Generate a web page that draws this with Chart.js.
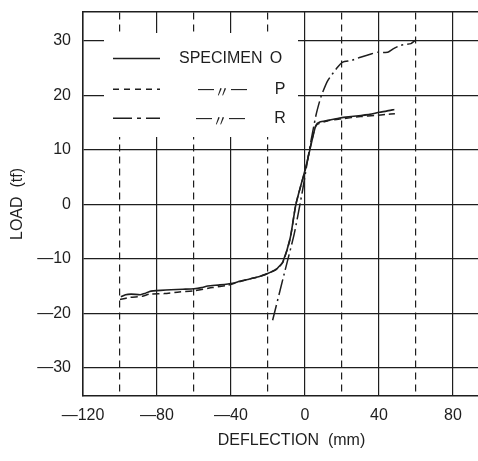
<!DOCTYPE html>
<html><head><meta charset="utf-8">
<script src="https://cdn.jsdelivr.net/npm/chart.js@4/dist/chart.umd.min.js"></script>
<style>
html,body{margin:0;padding:0;background:#fff;overflow:hidden;}
#wrap{width:500px;height:461px;position:relative;}
</style></head><body>
<div id="wrap"><canvas id="c"></canvas></div>
<script>
// ---- data ----
const xTicks = [-120, -80, -40, 0, 40, 80];
const xDashTicks = [-100, -60, -20, 20, 60];
const yTicks = [-30, -20, -10, 0, 10, 20, 30];

const legendNames = ['SPECIMEN', 'O', 'P', 'R'];
const dittoMark = '\u3003';

const specO_x = [-99.5, -97, -94, -89, -86.8, -84, -82, -78, -72.4, -66, -60, -56, -52.6, -46, -39.1, -35, -31, -25, -20.2, -16, -14.5, -12, -8, -4.9, 0.5, 4, 5.9, 8, 12.3, 19.5, 25, 30.3, 35, 40.2, 44, 48.3];
const specO_y = [-17.0, -16.6, -16.5, -16.6, -16.4, -16.0, -15.9, -15.8, -15.7, -15.6, -15.5, -15.3, -15.0, -14.8, -14.5, -14.1, -13.8, -13.3, -12.7, -12.1, -11.6, -10.6, -6.2, 0.0, 6.9, 12.0, 14.5, 15.1, 15.4, 15.9, 16.1, 16.3, 16.5, 16.9, 17.1, 17.4];

const specP_x = [-100, -95, -88, -84, -76, -68, -60, -50, -42, -39, -31, -25, -20, -15, -12, -8, -5, 0.5, 5.9, 12, 20, 30, 38, 44, 48.6];
const specP_y = [-17.5, -17.1, -16.9, -16.5, -16.4, -16.1, -15.9, -15.3, -14.9, -14.6, -13.8, -13.3, -12.7, -11.8, -10.7, -6.3, -0.1, 6.8, 14.4, 15.3, 15.7, 16.1, 16.3, 16.5, 16.6];

const specR_x = [-17.5, -11.2, -5.8, -1.3, 2.3, 5.9, 8.6, 12.3, 17.7, 20.4, 24.9, 30, 35.7, 39.3, 44.7, 47.4, 51.9, 57.3, 59.6];
const specR_y = [-21.3, -12.7, -5.4, 2.6, 9.9, 16.3, 19.7, 22.7, 25.2, 26.1, 26.4, 27.0, 27.6, 27.9, 27.9, 28.5, 29.2, 29.5, 30.1];

// ---- styles ----
const INK = '#1e1e1e';
const FONT = "'Liberation Sans', Arial, sans-serif";
const dashP = [7, 4];
const dashR = [16, 4, 2, 4];

const toPts = (xs, ys) => xs.map((x, i) => ({x: x, y: ys[i]}));

Chart.defaults.font.family = FONT;
Chart.defaults.color = INK;

const legendPlugin = {
  id: 'boxLegend',
  beforeDatasetsDraw(chart) {
    const ctx = chart.ctx;
    ctx.save();
    ctx.fillStyle = '#fff';
    ctx.fillRect(104, 33, 194, 104);
    ctx.strokeStyle = INK;
    ctx.lineWidth = 1.5;
    const rows = [58.5, 89.3, 118.3];
    const dashes = [[], [6, 5], [19, 5, 4, 5]];
    rows.forEach((y, i) => {
      ctx.setLineDash(dashes[i]);
      ctx.beginPath();
      ctx.moveTo(113, y);
      ctx.lineTo(160, y);
      ctx.stroke();
    });
    ctx.setLineDash([]);
    ctx.fillStyle = INK;
    ctx.textBaseline = 'middle';
    ctx.font = "16px " + FONT;
    ctx.textAlign = 'left';
    ctx.fillText(legendNames[0], 179, rows[0]);
    ctx.textAlign = 'center';
    ctx.fillText(legendNames[1], 276, rows[0]);
    ctx.fillText(legendNames[2], 280, rows[1]);
    ctx.fillText(legendNames[3], 280, rows[2]);
    [[222, rows[1]], [220, rows[2]]].forEach(([cx, y]) => {
      ctx.font = "16px " + FONT;
      ctx.fillText('\u2014', cx - 16, y);
      ctx.fillText('\u2014', cx + 17, y);
      ctx.font = "15px 'Noto Sans CJK JP', " + FONT;
      ctx.fillText(dittoMark, cx, y + 2);
    });
    ctx.restore();
  }
};

const fmt = v => (v < 0 ? '\u2014' + Math.abs(v) : String(v));

new Chart(document.getElementById('c'), {
  type: 'line',
  data: {
    datasets: [
      {label: 'O', data: toPts(specO_x, specO_y), borderColor: INK, borderWidth: 1.6, pointRadius: 0, tension: 0.2, fill: false},
      {label: 'P', data: toPts(specP_x, specP_y), borderColor: INK, borderWidth: 1.5, borderDash: dashP, pointRadius: 0, tension: 0.2, fill: false},
      {label: 'R', data: toPts(specR_x, specR_y), borderColor: INK, borderWidth: 1.5, borderDash: dashR, pointRadius: 0, tension: 0.2, fill: false}
    ]
  },
  options: {
    responsive: true,
    maintainAspectRatio: false,
    animation: false,
    events: [],
    layout: {padding: {top: 12, right: 0, left: 0, bottom: 0}},
    plugins: {legend: {display: false}, tooltip: {enabled: false}},
    scales: {
      x: {
        type: 'linear', position: 'bottom', min: -120, max: 105.4,
        afterBuildTicks: s => { s.ticks = xTicks.map(v => ({value: v})); },
        afterFit: s => { s.height = 65; s.paddingLeft = 0; s.paddingRight = 0; },
        grid: {color: INK, lineWidth: 1.2, drawTicks: false},
        border: {color: INK, width: 1.5},
        ticks: {font: {size: 16}, padding: 10, callback: fmt, maxRotation: 0, autoSkip: false},
        title: {display: true, text: 'DEFLECTION  (mm)', font: {size: 16}, padding: {top: 0, bottom: 11}}
      },
      xd: {
        type: 'linear', position: 'top', min: -120, max: 105.4,
        afterBuildTicks: s => { s.ticks = xDashTicks.map(v => ({value: v})); },
        afterFit: s => { s.height = 0; s.paddingLeft = 0; s.paddingRight = 0; },
        grid: {color: INK, lineWidth: 1.2, drawTicks: false},
        border: {display: true, color: INK, width: 1.5, dash: [7, 5]},
        ticks: {display: false}
      },
      y: {
        type: 'linear', min: -35.2, max: 35.3,
        afterBuildTicks: s => { s.ticks = yTicks.map(v => ({value: v})); },
        afterFit: s => { s.width = 83; s.paddingTop = 0; s.paddingBottom = 0; },
        grid: {color: INK, lineWidth: 1.2, drawTicks: false},
        border: {color: INK, width: 1.5},
        ticks: {font: {size: 16}, padding: 12, callback: fmt},
        title: {display: true, text: 'LOAD  (tf)', font: {size: 16}, padding: {top: 8, bottom: 0}}
      }
    }
  },
  plugins: [legendPlugin]
});
</script>
</body></html>
